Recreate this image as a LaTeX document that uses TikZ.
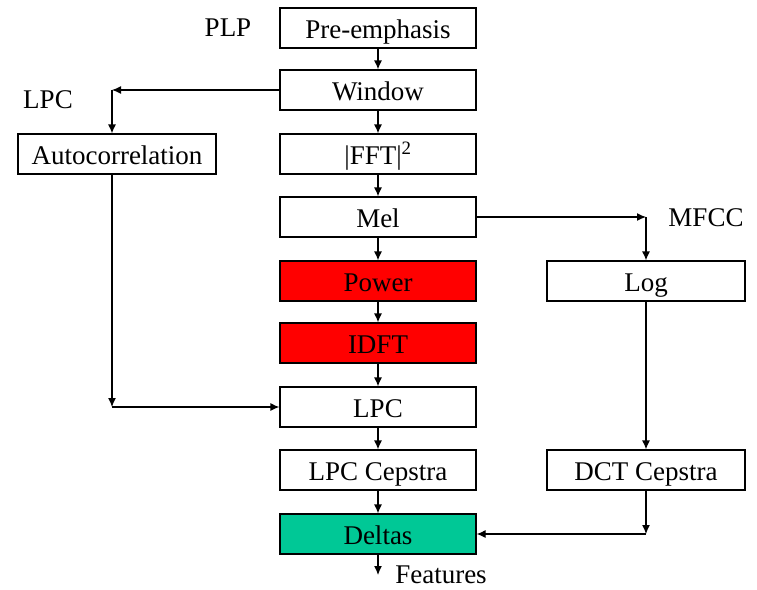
\documentclass[tikz,border=0pt]{standalone}
\usepackage{fontspec}
\setmainfont{Liberation Serif}
\usetikzlibrary{arrows.meta}
\definecolor{deltagreen}{RGB}{0,200,150}
\newcommand\labelfont{\fontsize{27}{30}\selectfont}

\begin{document}
\begin{tikzpicture}[x=1pt,y=-1pt,
    box/.style={draw, line width=1.2pt, minimum width=196pt, minimum height=40pt, inner sep=0pt,
        text height=22pt, text depth=2pt, font=\labelfont},
    arr/.style={-{Latex[length=9pt,width=8pt]}, line width=1.2pt},
    tag/.style={font=\labelfont, inner sep=1pt}]
    \useasboundingbox (0,0) rectangle (757,589);
    % middle column (PLP)
    \node [box] (pre) at (378,28) {Pre-emphasis};
    \node [box] (win) at (378,90) {Window};
    \node [box] (fft) at (378,154) {|FFT|\textsuperscript{2}};
    \node [box] (mel) at (378,217) {Mel};
    \node [box, fill=red] (pow) at (378,281) {Power};
    \node [box, fill=red] (idft) at (378,343) {IDFT};
    \node [box] (lpc) at (378,407) {LPC};
    \node [box] (lpcc) at (378,470) {LPC Cepstra};
    \node [box, fill=deltagreen] (del) at (378,534) {Deltas};
    % side columns
    \node [box, minimum width=198pt] (auto) at (117,154) {Autocorrelation};
    \node [box, minimum width=198pt] (log) at (646,281) {Log};
    \node [box, minimum width=198pt] (dct) at (646,470) {DCT Cepstra};
    % labels
    \node [tag] (plp) at (228,28) {PLP};
    \node [tag] (lpct) at (48,100) {LPC};
    \node [tag] (mfcc) at (706,218) {MFCC};
    \node [tag] (feat) at (441,575) {Features};
    % corners
    \coordinate (lc) at (112,90);
    \coordinate (lb) at (112,407);
    \coordinate (rc) at (646,217);
    \coordinate (rb) at (646,534);
    \coordinate (out) at (378,575);
    % arrows
    \draw [arr] (pre) -- (win);
    \draw [arr] (win) -- (fft);
    \draw [arr] (fft) -- (mel);
    \draw [arr] (mel) -- (pow);
    \draw [arr] (pow) -- (idft);
    \draw [arr] (idft) -- (lpc);
    \draw [arr] (lpc) -- (lpcc);
    \draw [arr] (lpcc) -- (del);
    \draw [arr] (del) -- (out);
    \draw [arr] (win.west) -- (lc);
    \draw [arr] (lc) -- (auto.north -| lc);
    \draw [arr] (auto.south -| lb) -- (lb);
    \draw [arr] (lb) -- (lpc.west);
    \draw [arr] (mel.east) -- (rc);
    \draw [arr] (rc) -- (log);
    \draw [arr] (log) -- (dct);
    \draw [arr] (dct) -- (rb);
    \draw [arr] (rb) -- (del.east);
\end{tikzpicture}
\end{document}
